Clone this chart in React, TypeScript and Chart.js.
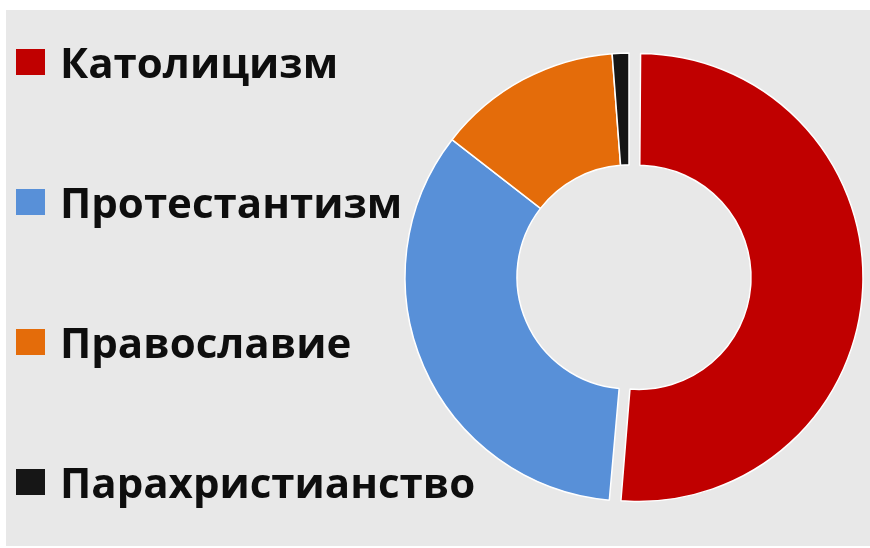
import React, { useEffect, useRef } from "react";
import { Chart, registerables } from "chart.js";

Chart.register(...registerables);

const labels = ["Католицизм", "Протестантизм", "Православие", "Парахристианство"];
const shares = [51.4, 34.1, 13.3, 1.2];
const colors = ["#c00000", "#5890d8", "#e46c0a", "#161616"];
// Chart.js translates an arc by offset/4 px
const offsets = [40, 0, 0, 0];

const LEGEND_FIRST = 52;
const LEGEND_STEP = 140;
const LEGEND_FONT = 42;

const sideLegend = {
  id: "sideLegend",
  afterDatasetUpdate(chart: any, args: any) {
    // keep an exploded slice at the same radius (Chart.js also grows it by offset/4)
    const meta = chart.getDatasetMeta(args.index);
    meta.data.forEach((el: any) => {
      const o = ((el.options && el.options.offset) || 0) / 4;
      if (!o) return;
      const circ = el.endAngle - el.startAngle;
      const fix = 1 - Math.sin(Math.min(Math.PI, circ));
      el.outerRadius -= o * fix;
      el.innerRadius -= o * fix;
    });
  },
  afterDraw(chart: any) {
    const ctx = chart.ctx as CanvasRenderingContext2D;
    const labs = chart.data.labels as string[];
    const cols = chart.data.datasets[0].backgroundColor as string[];
    ctx.save();
    ctx.font = `bold ${LEGEND_FONT}px "Open Sans", "DejaVu Sans", sans-serif`;
    ctx.textBaseline = "alphabetic";
    ctx.textAlign = "left";
    labs.forEach((lab, i) => {
      const cy = LEGEND_FIRST + i * LEGEND_STEP;
      ctx.fillStyle = cols[i];
      ctx.fillRect(10, cy - 13, 29, 26);
      ctx.fillStyle = "#0e0e0e";
      ctx.fillText(lab, 54, cy + 16);
    });
    ctx.restore();
  },
};

export default function App() {
  const ref = useRef<HTMLCanvasElement | null>(null);
  useEffect(() => {
    if (!ref.current) return;
    const chart = new Chart(ref.current, {
      type: "doughnut",
      data: {
        labels,
        datasets: [
          {
            data: shares,
            backgroundColor: colors,
            borderColor: "#ffffff",
            borderWidth: 1.5,
            offset: offsets,
          },
        ],
      },
      options: {
        animation: false,
        responsive: false,
        radius: 224,
        cutout: "50%",
        layout: { padding: { left: 382, right: 0, top: 0, bottom: 2 } },
        plugins: {
          legend: { display: false },
          tooltip: { enabled: false },
        },
      },
      plugins: [sideLegend],
    } as any);
    return () => chart.destroy();
  }, []);
  return (
    <div
      style={{
        position: "absolute",
        left: 6,
        top: 10,
        width: 864,
        height: 536,
        background: "#e8e8e8",
      }}
    >
      <canvas ref={ref} width={864} height={536} style={{ width: 864, height: 536, display: "block" }} />
    </div>
  );
}
